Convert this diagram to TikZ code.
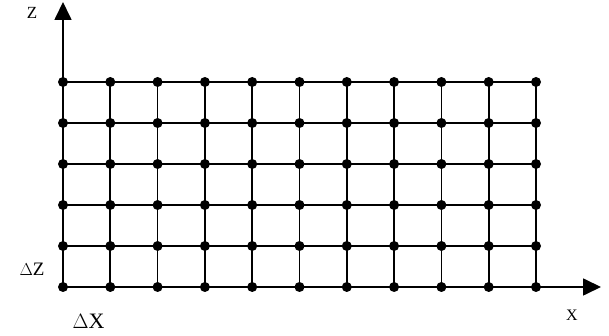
\documentclass[tikz,border=0pt]{standalone}
\usepackage{fontspec}
\setmainfont{Liberation Serif}
\usetikzlibrary{arrows.meta,backgrounds}

\begin{document}
\begin{tikzpicture}[
  x=1pt, y=1pt,
  dot/.style={circle, fill=black, inner sep=0pt, minimum size=10pt},
  gridline/.style={line width=1.7pt},
  axis/.style={line width=1.7pt, -{Triangle[length=18pt, width=17pt]}},
  lbl/.style={inner sep=0pt},
]
\useasboundingbox (-63,-49) rectangle (546,287);
% mesh points
\foreach \i in {0,...,10}
  \foreach \j in {0,...,5}
    \node[dot] (n-\i-\j) at (47.3*\i, 41*\j) {};
\begin{scope}[on background layer]
  \foreach \j in {0,...,5} \draw[gridline] (n-0-\j.center) -- (n-10-\j.center);
  \foreach \i in {0,...,10} \draw[gridline] (n-\i-0.center) -- (n-\i-5.center);
  % axes
  \coordinate (ztip) at (0,285);
  \coordinate (xtip) at (538,0);
  \draw[axis] (n-0-0.center) -- (ztip);
  \draw[axis] (n-0-0.center) -- (xtip);
\end{scope}
\node[lbl, font=\fontsize{17}{17}\selectfont] (zlab) at (-31,274) {Z};
\node[lbl, font=\fontsize{19}{19}\selectfont] (dz) at (-31,17.5) {$\Delta$Z};
\node[lbl, font=\fontsize{22}{22}\selectfont] (dx) at (25.5,-34) {$\Delta$X};
\node[lbl, font=\fontsize{16}{16}\selectfont] (xlab) at (509,-28) {X};
\end{tikzpicture}
\end{document}
